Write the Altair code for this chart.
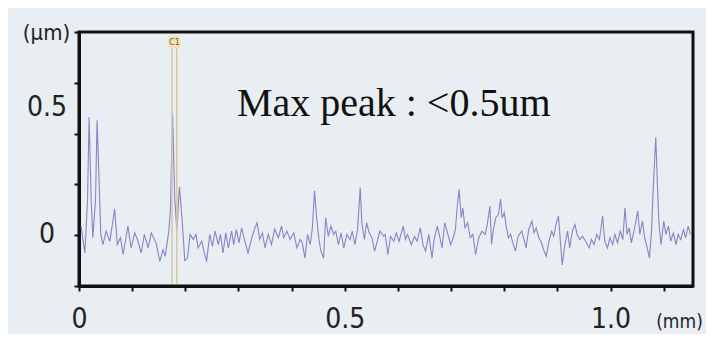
import altair as alt
import pandas as pd

# ---- data -------------------------------------------------------------
x_mm = [
    0.004, 0.011, 0.016, 0.019, 0.023, 0.026, 0.031, 0.034, 0.038, 0.041,
    0.045, 0.051, 0.058, 0.067, 0.072, 0.078, 0.083, 0.092, 0.098, 0.105,
    0.111, 0.117, 0.123, 0.130, 0.136, 0.145, 0.152, 0.158, 0.162, 0.169,
    0.172, 0.176, 0.180, 0.184, 0.189, 0.194, 0.199, 0.204,
    0.209, 0.215, 0.220, 0.224, 0.231, 0.235, 0.240, 0.246, 0.251, 0.256,
    0.262, 0.266, 0.271, 0.276, 0.281, 0.287, 0.291, 0.296, 0.301, 0.306,
    0.312, 0.318, 0.325, 0.331, 0.335, 0.340, 0.345, 0.350, 0.356, 0.362,
    0.368, 0.375, 0.381,
    0.385, 0.391, 0.397, 0.404, 0.410, 0.416, 0.420, 0.425, 0.430, 0.435,
    0.439, 0.443, 0.447, 0.451, 0.455, 0.460, 0.464, 0.469, 0.474, 0.479,
    0.483, 0.488, 0.493, 0.498, 0.504, 0.510, 0.514, 0.519, 0.524, 0.529,
    0.532, 0.537, 0.541, 0.546, 0.551, 0.556, 0.562, 0.566, 0.573,
    0.576, 0.581, 0.586, 0.592, 0.597, 0.602, 0.610, 0.614, 0.618, 0.625,
    0.631, 0.636, 0.642, 0.647, 0.652, 0.658, 0.664, 0.668, 0.674, 0.679,
    0.683, 0.688, 0.694, 0.699, 0.704, 0.708, 0.712, 0.715, 0.719, 0.722,
    0.726, 0.731, 0.736, 0.741, 0.746, 0.752, 0.758, 0.764,
    0.768, 0.773, 0.776, 0.779, 0.784, 0.789, 0.793, 0.796, 0.800, 0.804,
    0.808, 0.812, 0.816, 0.821, 0.826, 0.833, 0.837, 0.841, 0.846, 0.852,
    0.856, 0.860, 0.865, 0.870, 0.875, 0.879, 0.884, 0.889, 0.893, 0.898,
    0.902, 0.905, 0.909, 0.914, 0.919, 0.923, 0.928, 0.933, 0.937, 0.942,
    0.947, 0.953,
    0.960, 0.964, 0.969, 0.974, 0.979, 0.985, 0.989, 0.994, 0.999, 1.004,
    1.008, 1.013, 1.018, 1.023, 1.027, 1.031, 1.035, 1.039, 1.044, 1.051,
    1.055, 1.060, 1.064, 1.069, 1.073, 1.077, 1.080, 1.085, 1.088, 1.091,
    1.095, 1.100, 1.104, 1.109, 1.113, 1.118, 1.123, 1.127, 1.132, 1.137,
    1.141, 1.146, 1.150,
]
z_um = [
    0.036, -0.070, 0.135, 0.465, 0.135, -0.010, 0.135, 0.452, 0.200, 0.003,
    -0.037, 0.016, -0.024, 0.103, -0.037, -0.010, -0.076, 0.036, -0.050, 0.009,
    -0.024, -0.070, 0.003, -0.050, 0.009, -0.030, -0.103, -0.057, -0.083, 0.016,
    0.100, 0.480, 0.150, 0.020, 0.190, 0.060, -0.100, -0.090,
    0.003, -0.017, 0.003, -0.050, -0.024, -0.063, -0.103, 0.003, -0.044, 0.016,
    -0.037, 0.003, -0.070, 0.009, -0.050, 0.016, -0.037, 0.022, -0.030, 0.029,
    -0.024, -0.070, -0.010, 0.029, 0.049, -0.017, 0.009, -0.050, 0.003, -0.037,
    0.024, -0.010, 0.036,
    -0.010, 0.016, -0.017, 0.009, -0.050, -0.017, -0.030, -0.090, 0.003, -0.037,
    0.029, 0.175, 0.069, -0.010, -0.063, -0.090, 0.069, -0.004, 0.036, 0.003,
    0.016, -0.037, 0.009, -0.050, 0.003, -0.017, 0.016, -0.037, 0.022, 0.188,
    0.049, -0.017, 0.049, 0.009, -0.010, -0.063, -0.017, 0.016, -0.004,
    0.003, -0.077, -0.004, -0.024, 0.009, -0.024, 0.036, -0.017, 0.003, -0.037,
    -0.004, -0.024, 0.029, -0.037, -0.063, 0.003, -0.090, -0.017, 0.036, -0.010,
    -0.050, 0.049, 0.003, -0.037, -0.010, 0.022, 0.122, 0.181, 0.069, 0.108,
    0.029, 0.049, -0.010, 0.003, -0.077, -0.010, 0.016, 0.003,
    0.042, 0.115, -0.037, 0.016, 0.069, 0.082, 0.142, 0.069, 0.088, 0.029,
    -0.010, 0.003, -0.030, -0.063, -0.004, 0.016, -0.017, -0.050, 0.022, 0.056,
    0.009, 0.029, -0.010, -0.030, -0.063, -0.083, -0.024, 0.016, -0.004, 0.049,
    0.075, -0.010, -0.117, -0.037, 0.016, -0.050, 0.016, 0.042, 0.003, -0.017,
    -0.004, -0.024,
    -0.050, -0.017, -0.037, 0.003, -0.017, 0.075, -0.024, -0.050, -0.010, -0.037,
    0.003, -0.030, 0.016, -0.017, 0.108, 0.003, 0.029, -0.030, 0.016, 0.095,
    0.003, 0.056, -0.010, -0.050, -0.090, 0.016, 0.175, 0.386, 0.201, 0.042,
    -0.037, 0.056, 0.003, 0.036, -0.024, 0.009, -0.037, 0.003, -0.017, 0.022,
    -0.010, 0.036, 0.003,
]
cursor_mm = [0.175, 0.184]
cursor_label = ["C1"]
x_ticks = [0.0, 0.1, 0.2, 0.3, 0.4, 0.5, 0.6, 0.7, 0.8, 0.9, 1.0, 1.1]
y_ticks = [-0.2, -0.1, 0.0, 0.1, 0.2, 0.3, 0.4, 0.5, 0.6, 0.7, 0.8]
y_label_values = [0.0, 0.5]
y_label_texts = ["0", "0.5"]
x_domain = [0, 1.155]
y_domain = [-0.2, 0.8]
note_text = ["Max peak : <0.5um"]
note_x = [0.297]
note_y = [0.47]

# ---- styling -------------------------------------------------------------
AXIS_FONT = "Liberation Sans Narrow, DejaVu Sans Condensed, Roboto, sans-serif"
BG = "#e8eef2"

profile = pd.DataFrame({"x": x_mm, "z": z_um})
cursors = pd.DataFrame({"x": cursor_mm})
cursor_mid = pd.DataFrame({"x": [sum(cursor_mm) / 2], "t": cursor_label})
note = pd.DataFrame({"x": note_x, "z": note_y, "t": note_text})
ylab = pd.DataFrame({"z": y_label_values, "t": y_label_texts})

xscale = alt.Scale(domain=x_domain, nice=False, zero=False)
yscale = alt.Scale(domain=y_domain, nice=False, zero=False)

x_axis = alt.Axis(
    values=x_ticks,
    labelExpr="datum.value == 0 ? '0' : abs(datum.value - 0.5) < 1e-9 ? '0.5' : abs(datum.value - 1) < 1e-9 ? '1.0' : ''",
    labelOverlap=False,
    grid=False, domainColor="#111", domainWidth=3, tickColor="#111", tickWidth=2,
    tickSize=5, labelFont=AXIS_FONT, labelFontSize=28, labelColor="#222",
    labelPadding=14, labelBaseline="top", labelFlush=False,
    title="(mm)", titleFont=AXIS_FONT, titleFontSize=19, titleFontWeight="normal",
    titleColor="#222", titleX=600, titleY=26, titleAlign="center", titleBaseline="top",
)
y_axis = alt.Axis(
    values=y_ticks, labels=False,
    grid=False, domainColor="#111", domainWidth=3, tickColor="#111", tickWidth=2,
    tickSize=5,
    title="(μm)", titleFont=AXIS_FONT, titleFontSize=22, titleFontWeight="normal",
    titleColor="#222", titleAngle=0, titleX=-33, titleY=0, titleAlign="center",
    titleBaseline="middle",
)

line = alt.Chart(profile).mark_line(color="#8a84c4", strokeWidth=1.1, clip=True).encode(
    x=alt.X("x:Q", scale=xscale, axis=x_axis),
    y=alt.Y("z:Q", scale=yscale, axis=y_axis),
)

ylabels = alt.Chart(ylab).mark_text(
    font=AXIS_FONT, fontSize=28, color="#222", align="center", baseline="middle"
).encode(x=alt.value(-32), y=alt.Y("z:Q", scale=yscale), text="t:N")

cursor_rules = alt.Chart(cursors).mark_rule(color="#d8c8a2", strokeWidth=1.5).encode(
    x=alt.X("x:Q", scale=xscale),
    y=alt.value(4), y2=alt.value(252),
)

cursor_box = alt.Chart(cursor_mid).mark_point(
    shape="square", size=150, filled=True, color="#f3e2b8", opacity=1
).encode(x=alt.X("x:Q", scale=xscale), y=alt.value(10))

cursor_text = alt.Chart(cursor_mid).mark_text(
    fontSize=9, color="#7a5a30", font=AXIS_FONT
).encode(x=alt.X("x:Q", scale=xscale), y=alt.value(10), text="t:N")

note_layer = alt.Chart(note).mark_text(
    font="Liberation Serif, Times New Roman, serif", fontSize=40, color="#111",
    align="left", baseline="alphabetic",
).encode(
    x=alt.X("x:Q", scale=xscale),
    y=alt.Y("z:Q", scale=yscale),
    text="t:N",
)

chart = alt.layer(line, ylabels, cursor_rules, cursor_box, cursor_text, note_layer).properties(
    width=614, height=254,
    autosize=alt.AutoSizeParams(type="none"),
    padding={"left": 71, "top": 24, "right": 13, "bottom": 48},
).configure(background=BG).configure_view(
    stroke="#111", strokeWidth=3
).configure_axis(labelOverlap=False)

chart.save("out.html", embed_options={"renderer": "svg", "actions": False})
